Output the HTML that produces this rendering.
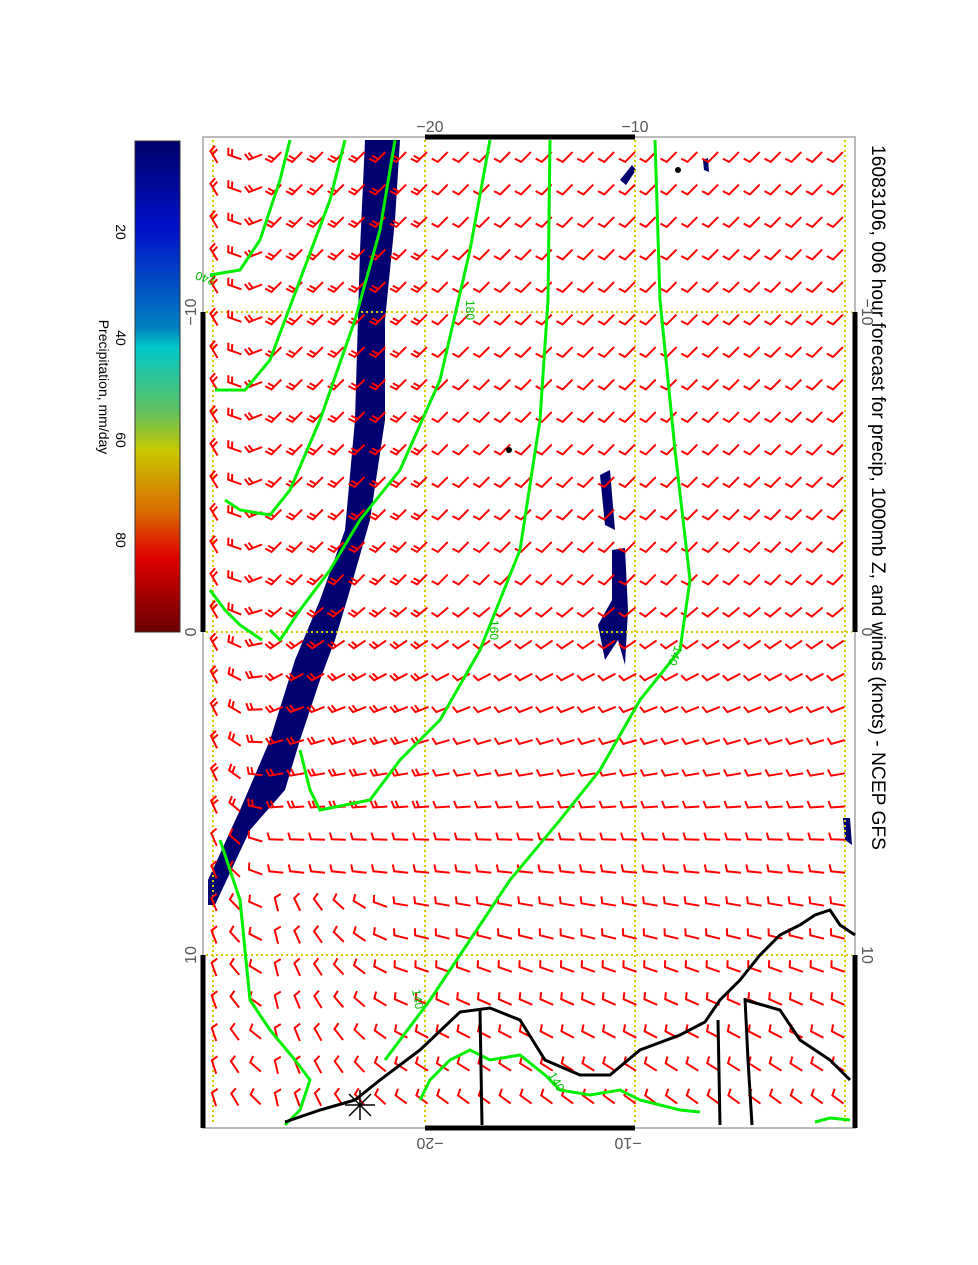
<!DOCTYPE html>
<html><head><meta charset="utf-8">
<style>
html,body{margin:0;padding:0;background:#fff;}
svg{display:block;font-family:"Liberation Sans",sans-serif;}
</style></head>
<body>
<svg id="s" width="978" height="1265" viewBox="0 0 978 1265" xmlns="http://www.w3.org/2000/svg">
<defs>
<linearGradient id="cb" x1="0" y1="0" x2="0" y2="1">
<stop offset="0" stop-color="#00006a"/>
<stop offset="0.18" stop-color="#0010c8"/>
<stop offset="0.38" stop-color="#0080c0"/>
<stop offset="0.42" stop-color="#00c8c8"/>
<stop offset="0.55" stop-color="#60c060"/>
<stop offset="0.63" stop-color="#c8c800"/>
<stop offset="0.75" stop-color="#d87000"/>
<stop offset="0.85" stop-color="#e00000"/>
<stop offset="1" stop-color="#6a0000"/>
</linearGradient>
</defs>
<rect x="135" y="141" width="45" height="491" fill="url(#cb)" stroke="#333" stroke-width="1"/>
<g font-size="14" fill="#000">
<text transform="translate(116,232) rotate(90)" text-anchor="middle">20</text>
<text transform="translate(116,338) rotate(90)" text-anchor="middle">40</text>
<text transform="translate(116,440) rotate(90)" text-anchor="middle">60</text>
<text transform="translate(116,540) rotate(90)" text-anchor="middle">80</text>
<text transform="translate(99,387) rotate(90)" text-anchor="middle">Precipitation, mm/day</text>
<text transform="translate(872,145) rotate(90)" textLength="705" lengthAdjust="spacingAndGlyphs" font-size="19">16083106, 006 hour forecast for precip, 1000mb Z, and winds (knots) - NCEP GFS</text>
</g>
<rect x="203" y="137" width="652" height="991" fill="none" stroke="#bbb" stroke-width="2"/>
<g stroke="#000" stroke-width="5">
<line x1="425" y1="137" x2="635" y2="137"/>
<line x1="425" y1="1128" x2="635" y2="1128"/>
<line x1="203" y1="312" x2="203" y2="632"/>
<line x1="203" y1="955" x2="203" y2="1128"/>
<line x1="855" y1="312" x2="855" y2="632"/>
<line x1="855" y1="955" x2="855" y2="1128"/>
</g>
<g font-size="16" fill="#555">
<text x="430" y="132" text-anchor="middle">−20</text>
<text x="635" y="132" text-anchor="middle">−10</text>
<text transform="translate(430,1138) rotate(180)" text-anchor="middle">−20</text>
<text transform="translate(628,1138) rotate(180)" text-anchor="middle">−10</text>
<text transform="translate(862,312) rotate(90)" text-anchor="middle">−10</text>
<text transform="translate(862,632) rotate(90)" text-anchor="middle">0</text>
<text transform="translate(862,955) rotate(90)" text-anchor="middle">10</text>
<text transform="translate(196,312) rotate(-90)" text-anchor="middle">−10</text>
<text transform="translate(196,632) rotate(-90)" text-anchor="middle">0</text>
<text transform="translate(196,955) rotate(-90)" text-anchor="middle">10</text>
</g>
<g fill="#000070">
<polygon points="365,140 360,250 355,420 345,530 320,600 295,660 270,740 240,810 208,880 208,905 215,905 250,830 285,790 300,740 320,680 335,640 350,590 370,520 385,420 385,320 395,220 400,140"/>
<polygon points="600,475 610,470 615,530 605,525"/>
<polygon points="612,550 625,548 628,610 625,665 618,640 605,660 598,625 612,600"/>
<polygon points="620,180 632,165 636,170 626,185"/>
<polygon points="843,818 850,818 852,845 845,840"/>
<polygon points="703,160 708,158 709,172 704,170"/>
</g>
<g stroke="#d8c800" stroke-width="2" stroke-dasharray="2,3" fill="none">
<line x1="213" y1="140" x2="213" y2="1125"/>
<line x1="425" y1="140" x2="425" y2="1125"/>
<line x1="635" y1="140" x2="635" y2="1125"/>
<line x1="845" y1="140" x2="845" y2="1125"/>
<line x1="206" y1="312" x2="852" y2="312"/>
<line x1="206" y1="632" x2="852" y2="632"/>
<line x1="206" y1="955" x2="852" y2="955"/>
</g>
<g id="barbs" stroke="#f00" stroke-width="2" fill="none"></g>
<g stroke="#00ee00" stroke-width="3" fill="none">
<polyline points="655,140 660,300 675,450 690,580 680,650 640,700 600,770 560,820 510,880 470,940 430,1000 400,1040 385,1060"/>
<polyline points="550,140 548,300 540,420 520,550 500,600 480,650 440,720 400,760 370,800 320,810 310,790 300,750"/>
<polyline points="490,140 470,250 440,380 400,470 360,520 330,570 300,610 280,640 270,630"/>
<polyline points="395,140 380,230 355,320 320,420 290,490 270,515 240,510 225,500"/>
<polyline points="345,140 330,200 300,280 270,360 245,390 215,390"/>
<polyline points="290,140 280,180 260,240 240,270 210,275"/>
<polyline points="210,590 225,610 240,625 262,640"/>
<polyline points="220,840 240,900 250,1000 270,1030 295,1060 310,1080 300,1110 285,1125"/>
<polyline points="420,1100 430,1080 450,1060 470,1050 490,1060 520,1055 545,1075 560,1090 590,1095 620,1090 640,1100 680,1110 700,1112"/>
<polyline points="815,1122 830,1118 850,1120"/>
</g>
<g fill="#00c000" font-size="12">
<text transform="translate(216,278) rotate(200)">240</text>
<text transform="translate(466,300) rotate(90)">180</text>
<text transform="translate(490,620) rotate(90)">160</text>
<text transform="translate(675,645) rotate(110)">140</text>
<text transform="translate(412,990) rotate(80)">140</text>
<text transform="translate(548,1075) rotate(60)">140</text>
</g>
<g stroke="#000" stroke-width="3" fill="none">
<polyline points="285,1122 320,1110 355,1100 380,1080 420,1050 460,1012 490,1008 520,1020 545,1060 580,1075 610,1075 640,1050 680,1035 705,1022 720,1000 740,980 760,955 780,935 800,925 815,915 830,910 840,925 855,935"/>
<polyline points="480,1010 482,1125"/>
<polyline points="718,1020 720,1125"/>
<polyline points="745,998 748,1060 752,1125"/>
<polyline points="745,1000 780,1010 800,1040 830,1060 850,1080"/>
</g>
<g stroke="#000" stroke-width="1.5">
<line x1="345" y1="1105" x2="375" y2="1105"/><line x1="360" y1="1090" x2="360" y2="1120"/>
<line x1="349" y1="1094" x2="371" y2="1116"/><line x1="371" y1="1094" x2="349" y2="1116"/>
</g>
<circle cx="678" cy="170" r="3" fill="#000"/>
<circle cx="509" cy="450" r="3" fill="#000"/>
</svg>
<script>
(function(){
var g=document.getElementById('barbs'),out='';
function th(x,y){
 var u=(x-203)/652,v=(y-137)/990,t;
 if(v<0.45){t=45;} else if(v<0.7){t=45-(v-0.45)/0.25*45;} else {t=-(v-0.7)/0.3*40;}
 if(u<0.1){var a=(0.1-u)/0.1;t=t*(1-a)+(-80)*a;}
 else if(v>0.75&&u<0.3){var b=(0.3-u)/0.2;if(b>1)b=1;t=t*(1-b)+(-80)*b;}
 return t;
}
for(var y=157;y<1115;y+=32.5){
 for(var x=214;x<848;x+=20.8){
  var t=th(x,y)*Math.PI/180,L=14;
  var px=x-L/2*Math.cos(t),py=y+L/2*Math.sin(t);
  var ex=px+L*Math.cos(t),ey=py-L*Math.sin(t);
  var f=t+Math.PI/2+0.3;
  var d='M'+ex.toFixed(1)+','+ey.toFixed(1)+'L'+px.toFixed(1)+','+py.toFixed(1)+'l'+(7*Math.cos(f)).toFixed(1)+','+(-7*Math.sin(f)).toFixed(1);
  var u=(x-203)/652,v=(y-137)/990;
  if(u<0.35&&v<0.7){var qx=px+4*Math.cos(t),qy=py-4*Math.sin(t);d+='M'+qx.toFixed(1)+','+qy.toFixed(1)+'l'+(7*Math.cos(f)).toFixed(1)+','+(-7*Math.sin(f)).toFixed(1);}
  out+='<path d="'+d+'"/>';
 }
}
g.innerHTML=out;
})();
</script>
</body></html>
